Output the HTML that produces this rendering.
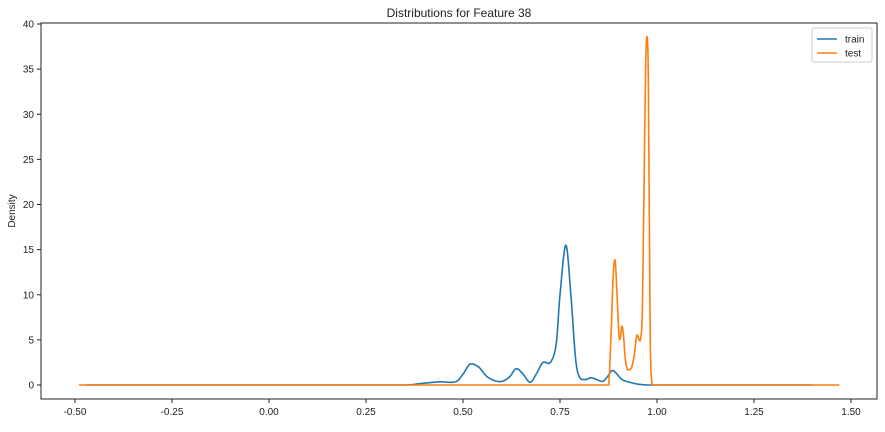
<!DOCTYPE html>
<html><head><meta charset="utf-8"><style>
body{margin:0;background:#fff;font-family:"Liberation Sans",sans-serif}
svg text{font-family:"Liberation Sans",sans-serif;font-size:10px;fill:#222}
</style></head><body>
<svg id="c" width="885" height="427"></svg>
<script>
const trainX=[-0.47,0.30,0.36,0.40,0.44,0.48,0.50,0.518,0.54,0.56,0.58,0.60,0.62,0.637,0.655,0.673,0.69,0.706,0.725,0.74,0.75,0.765,0.778,0.79,0.80,0.815,0.83,0.845,0.86,0.872,0.884,0.895,0.91,0.93,0.95,0.97,0.99,1.40];
const trainY=[0,0,0.02,0.2,0.35,0.35,1.2,2.3,2.0,1.0,0.5,0.4,0.9,1.8,1.2,0.3,1.3,2.5,2.5,4.5,10,15.5,10,3,0.9,0.6,0.8,0.6,0.4,0.9,1.6,1.3,0.6,0.3,0.1,0.02,0,0];
const testX=[-0.49,0.870,0.876,0.882,0.887,0.892,0.897,0.902,0.906,0.909,0.913,0.918,0.923,0.928,0.935,0.942,0.948,0.954,0.958,0.962,0.966,0.970,0.973,0.977,0.980,0.983,0.987,0.992,1.47];
const testY=[0,0,0.5,6,12,13.8,10,5.5,5.3,6.5,5.8,3,1.8,1.7,2.0,3.5,5.5,5.0,5.2,8,20,33,38.3,36,20,4,0.3,0,0];
const yTicks=[0,5,10,15,20,25,30,35,40];
const xTicks=[-0.5,-0.25,0,0.25,0.5,0.75,1.0,1.25,1.5];
const L=41,R=877,T=23,B=399;
const sx=v=>269+v*388, sy=v=>385-v*9.025;
const NS="http://www.w3.org/2000/svg",svg=document.getElementById('c');
function mk(t,a,p){const e=document.createElementNS(NS,t);for(const k in a)e.setAttribute(k,a[k]);(p||svg).appendChild(e);return e;}
const f=mk('rect',{x:L,y:T,width:R-L,height:B-T,fill:'none',stroke:'#222','stroke-width':1});


yTicks.forEach(v=>{const y=sy(v);mk('line',{x1:L-4,x2:L,y1:y,y2:y,stroke:'#222'});
 const t=mk('text',{x:L-7,y:y+3.5,'text-anchor':'end'});t.textContent=v;
 
 });
xTicks.forEach(v=>{const x=sx(v);mk('line',{x1:x,x2:x,y1:B,y2:B+4,stroke:'#222'});
 const t=mk('text',{x:x,y:B+16,'text-anchor':'middle'});t.textContent=v.toFixed(2);
 
 });
const yt=mk('text',{x:15,y:211,'text-anchor':'middle',transform:'rotate(-90 15 211)'});yt.textContent='Density';


const tt=mk('text',{x:459,y:17,'text-anchor':'middle'});tt.textContent='Distributions for Feature 38';tt.style.fontSize='12px';


function smooth(xs,ys){const P=xs.map((x,i)=>[sx(x),sy(ys[i])]);const base=sy(0);let pts=[];
 for(let i=0;i<P.length-1;i++){const p0=P[Math.max(0,i-1)],p1=P[i],p2=P[i+1],p3=P[Math.min(P.length-1,i+2)];
  for(let s=0;s<12;s++){const t=s/12,t2=t*t,t3=t2*t;
   let x=0.5*((2*p1[0])+(-p0[0]+p2[0])*t+(2*p0[0]-5*p1[0]+4*p2[0]-p3[0])*t2+(-p0[0]+3*p1[0]-3*p2[0]+p3[0])*t3);
   let y=0.5*((2*p1[1])+(-p0[1]+p2[1])*t+(2*p0[1]-5*p1[1]+4*p2[1]-p3[1])*t2+(-p0[1]+3*p1[1]-3*p2[1]+p3[1])*t3);
   x=Math.min(Math.max(x,p1[0]),p2[0]);y=Math.min(y,base);pts.push(x.toFixed(2)+','+y.toFixed(2));}}
 const l=P[P.length-1];pts.push(l[0]+','+l[1]);return pts.join(' ');}
function line(xs,ys,c,n){const p=mk('polyline',{points:smooth(xs,ys),fill:'none',stroke:c,'stroke-width':1.6,'stroke-linejoin':'round'});
 
 }
line(trainX,trainY,'#1f77b4','train-line');
line(testX,testY,'#ff7f0e','test-line');
const lg=mk('g',{});


mk('rect',{x:812,y:28,width:60,height:34,fill:'#fff',stroke:'#ccc',rx:2},lg);
[['train','#1f77b4'],['test','#ff7f0e']].forEach((d,i)=>{const y=39+i*14;
 mk('line',{x1:817,x2:837,y1:y,y2:y,stroke:d[1],'stroke-width':1.6},lg);
 const t=mk('text',{x:845,y:y+3.5},lg);t.textContent=d[0];
 
 });
</script>
</body></html>
